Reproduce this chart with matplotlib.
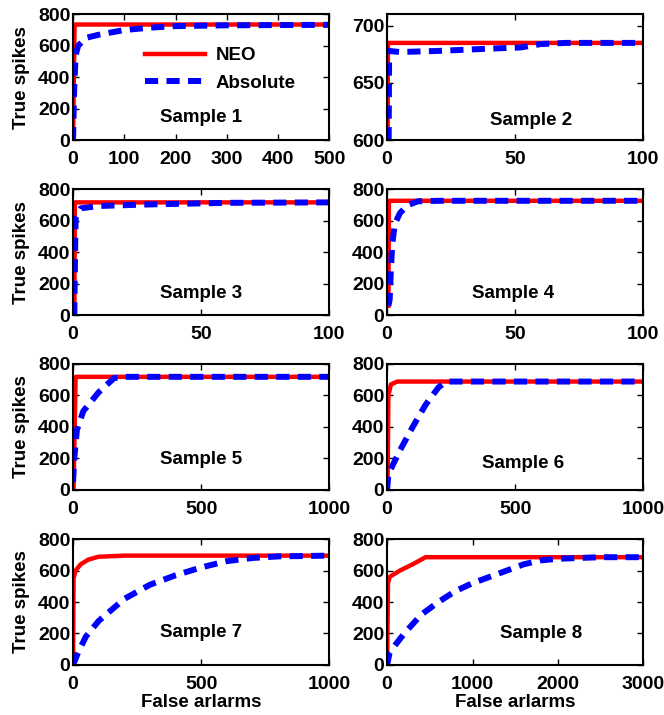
import matplotlib.pyplot as plt

plt.rcParams['font.family'] = ['Liberation Sans', 'DejaVu Sans']
plt.rcParams['font.weight'] = 'bold'
plt.rcParams['font.size'] = 14

# Sample 1
s1_neo_x = [0, 3, 500]
s1_neo_y = [0, 735, 735]
s1_abs_x = [0, 2, 5, 10, 25, 50, 100, 150, 200, 300, 500]
s1_abs_y = [0, 300, 540, 600, 650, 670, 700, 715, 725, 730, 733]
# Sample 2
s2_neo_x = [0.2, 0.3, 100]
s2_neo_y = [600, 685, 685]
s2_abs_x = [0.6, 0.8, 5, 20, 40, 52, 60, 70, 100]
s2_abs_y = [600, 678, 677, 678, 680, 681, 684, 685, 685]
# Sample 3
s3_neo_x = [0.5, 0.7, 100]
s3_neo_y = [0, 718, 718]
s3_abs_x = [0.5, 0.8, 1, 3, 10, 30, 60, 100]
s3_abs_y = [0, 400, 620, 680, 695, 705, 715, 718]
# Sample 4
s4_neo_x = [0.5, 0.7, 100]
s4_neo_y = [60, 728, 728]
s4_abs_x = [0.5, 1, 1.5, 2, 3, 5, 8, 12, 20, 100]
s4_abs_y = [60, 100, 300, 450, 580, 650, 700, 725, 728, 728]
# Sample 5
s5_neo_x = [2, 10, 1000]
s5_neo_y = [0, 718, 718]
s5_abs_x = [0, 5, 15, 40, 100, 160, 200, 1000]
s5_abs_y = [50, 200, 380, 500, 620, 710, 718, 718]
# Sample 6
s6_neo_x = [0, 2, 5, 15, 40, 1000]
s6_neo_y = [0, 100, 600, 670, 688, 688]
s6_abs_x = [0, 5, 50, 100, 150, 200, 230, 1000]
s6_abs_y = [0, 100, 250, 400, 540, 650, 688, 688]
# Sample 7
s7_neo_x = [0, 2, 10, 30, 60, 100, 200, 1000]
s7_neo_y = [0, 550, 600, 640, 670, 688, 695, 695]
s7_abs_x = [0, 20, 50, 100, 150, 200, 300, 400, 500, 600, 700, 800, 1000]
s7_abs_y = [0, 80, 180, 280, 350, 420, 510, 570, 620, 660, 680, 690, 695]
# Sample 8
s8_neo_x = [0, 10, 30, 150, 300, 450, 3000]
s8_neo_y = [0, 520, 560, 600, 640, 685, 685]
s8_abs_x = [0, 30, 100, 200, 400, 600, 800, 1000, 1300, 1600, 1800, 2000, 2500, 3000]
s8_abs_y = [0, 80, 130, 200, 320, 400, 470, 520, 580, 640, 665, 675, 685, 685]

samples = [
    (s1_neo_x, s1_neo_y, s1_abs_x, s1_abs_y, 500, (0, 800), [0, 200, 400, 600, 800], [0, 100, 200, 300, 400, 500]),
    (s2_neo_x, s2_neo_y, s2_abs_x, s2_abs_y, 100, (600, 710), [600, 650, 700], [0, 50, 100]),
    (s3_neo_x, s3_neo_y, s3_abs_x, s3_abs_y, 100, (0, 800), [0, 200, 400, 600, 800], [0, 50, 100]),
    (s4_neo_x, s4_neo_y, s4_abs_x, s4_abs_y, 100, (0, 800), [0, 200, 400, 600, 800], [0, 50, 100]),
    (s5_neo_x, s5_neo_y, s5_abs_x, s5_abs_y, 1000, (0, 800), [0, 200, 400, 600, 800], [0, 500, 1000]),
    (s6_neo_x, s6_neo_y, s6_abs_x, s6_abs_y, 1000, (0, 800), [0, 200, 400, 600, 800], [0, 500, 1000]),
    (s7_neo_x, s7_neo_y, s7_abs_x, s7_abs_y, 1000, (0, 800), [0, 200, 400, 600, 800], [0, 500, 1000]),
    (s8_neo_x, s8_neo_y, s8_abs_x, s8_abs_y, 3000, (0, 800), [0, 200, 400, 600, 800], [0, 1000, 2000, 3000]),
]
label_pos = [(0.5, 0.18), (0.56, 0.16), (0.5, 0.17), (0.49, 0.17),
             (0.5, 0.24), (0.53, 0.21), (0.5, 0.26), (0.6, 0.25)]

fig = plt.figure(figsize=(6.64, 7.15), dpi=100)
lefts = [0.110, 0.583]
bottoms = [0.804, 0.559, 0.315, 0.070]

for i, (nx, ny, ax_, ay, xmax, ylim, yt, xt) in enumerate(samples):
    row, col = divmod(i, 2)
    ax = fig.add_axes([lefts[col], bottoms[row], 0.386, 0.176])
    ax.plot(nx, ny, color='red', lw=3.2, label='NEO')
    ax.plot(ax_, ay, color='blue', lw=4.3, dashes=(2.2, 1.4), label='Absolute')
    ax.set_xlim(0, xmax)
    ax.set_ylim(*ylim)
    ax.set_xticks(xt)
    ax.set_yticks(yt)
    ax.tick_params(direction='in', length=4, width=1, top=True, right=True, labelsize=14)
    ax.tick_params(axis='x', pad=8)
    ax.tick_params(axis='y', pad=2)
    for sp in ax.spines.values():
        sp.set_linewidth(1.5)
    ax.text(label_pos[i][0], label_pos[i][1], 'Sample %d' % (i + 1), transform=ax.transAxes,
            ha='center', va='center', fontsize=13.5, fontweight='bold')
    if col == 0:
        ax.set_ylabel('True spikes', fontsize=13.5, fontweight='bold', labelpad=6)
    if row == 3:
        ax.set_xlabel('False arlarms', fontsize=13.5, fontweight='bold', labelpad=1)
    if i == 0:
        ax.legend(loc='upper left', bbox_to_anchor=(0.25, 0.80), frameon=False,
                  handlelength=3.2, handletextpad=0.6, fontsize=13.5,
                  labelspacing=0.55, borderaxespad=0)

fig.savefig('out.png', dpi=100)
